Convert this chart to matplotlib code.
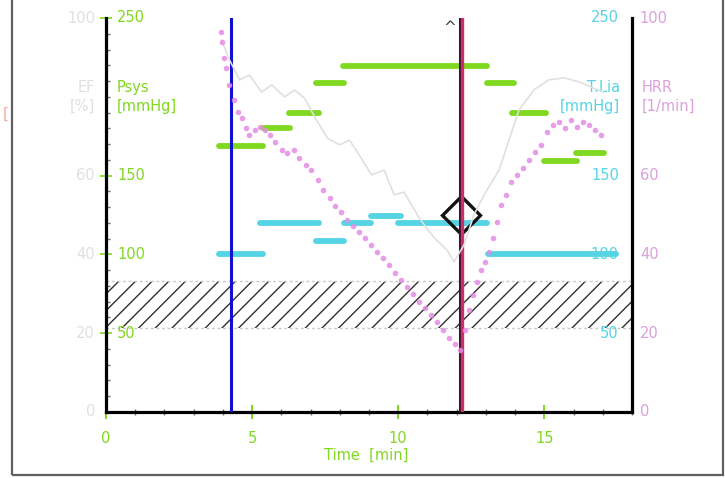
import matplotlib
matplotlib.use("Agg")
from matplotlib import pyplot as plt
from matplotlib.patches import Rectangle

# Psys segments [mmHg] (left scale 0-250)
psys_t0 = [3.86, 5.36, 6.25, 7.20, 8.10, 13.04, 13.90, 14.98, 16.08]
psys_t1 = [5.36, 6.28, 7.30, 8.16, 13.04, 13.96, 15.05, 16.11, 17.03]
psys_val = [169, 180, 190, 209, 219.5, 209, 190, 159, 164.5]

# T.Lia segments [mmHg] (right inner scale 0-250)
tlia_t0 = [3.86, 5.26, 7.20, 8.16, 9.08, 10.00, 13.07]
tlia_t1 = [5.36, 7.30, 8.16, 9.08, 10.10, 13.04, 17.44]
tlia_val = [100, 120, 108.5, 120, 124.5, 120, 100]

# EF [%] trace (light grey)
ef_t = [3.96, 4.23, 4.57, 4.91, 5.32, 5.67, 6.11, 6.45, 6.79, 7.20, 7.58, 7.99,
        8.33, 8.67, 9.08, 9.52, 9.86, 10.20, 10.72, 11.23, 11.67, 11.91, 12.25,
        12.59, 12.94, 13.45, 13.79, 14.13, 14.64, 15.15, 15.67, 16.18, 16.69, 17.03]
ef_val = [94.4, 89.3, 84.3, 85.5, 81.2, 83.0, 80.0, 81.7, 79.7, 74.1, 69.5, 67.8,
          69.0, 65.2, 60.2, 61.4, 55.1, 55.8, 49.2, 44.2, 41.1, 38.1, 42.4,
          50.0, 55.1, 61.4, 69.0, 76.6, 81.7, 84.3, 84.8, 83.8, 82.2, 81.2]

# HRR [1/min] dots
hrr_t = [3.92, 3.96, 4.03, 4.10, 4.20, 4.37, 4.51, 4.64, 4.78, 4.91, 5.09, 5.26,
         5.43, 5.60, 5.80, 6.01, 6.21, 6.42, 6.62, 6.83, 7.03, 7.24, 7.44, 7.65,
         7.85, 8.05, 8.26, 8.46, 8.67, 8.87, 9.08, 9.28, 9.49, 9.69, 9.90, 10.10,
         10.31, 10.51, 10.72, 10.92, 11.13, 11.33, 11.54, 11.74, 11.95, 12.12,
         12.29, 12.42, 12.56, 12.70, 12.83, 12.97, 13.11, 13.24, 13.38, 13.52,
         13.69, 13.86, 14.06, 14.27, 14.47, 14.68, 14.88, 15.09, 15.29, 15.49,
         15.70, 15.90, 16.11, 16.31, 16.52, 16.72, 16.93]
hrr_val = [96.4, 93.9, 89.8, 87.3, 83.0, 79.2, 76.1, 74.6, 72.1, 70.3, 71.6, 72.3,
           71.6, 70.3, 68.5, 66.5, 65.7, 66.5, 64.5, 62.7, 61.4, 58.9, 56.3, 54.3,
           52.3, 50.8, 48.7, 47.2, 45.7, 44.2, 42.4, 40.6, 39.1, 37.3, 35.3, 33.5,
           31.7, 29.9, 27.9, 26.4, 24.6, 22.8, 20.8, 18.8, 17.3, 15.7,
           20.8, 25.9, 29.7, 33.0, 36.0, 38.1, 40.6, 44.2, 48.2, 52.5,
           55.1, 58.4, 60.2, 61.9, 64.0, 66.0, 67.8, 71.1, 72.8, 73.6,
           72.1, 74.1, 72.3, 73.6, 72.8, 71.6, 70.3]

left_ticks = [250, 150, 100, 50]
right_ticks = [250, 150, 100, 50]
pct_ticks = [100, 60, 40, 20, 0]
x_ticks = [0, 5, 10, 15]

marker_blue = 4.27
marker_red = 12.15
caret_t, caret_y = 11.77, 244
diamond_t, diamond_y = 12.15, 125
band_lo, band_hi = 53.3, 83.1

green = '#80d820'
cyan = '#55d4e4'
pink = '#e48ce4'
grey = '#e0e0e0'

fig = plt.figure(figsize=(7.25, 4.78), dpi=100)
ax = fig.add_axes([106/725, 66/478, 526/725, 394/478])
ax.set_xlim(0, 18)
ax.set_ylim(0, 250)

# hatched band
ax.axhspan(band_lo, band_hi, fill=False, hatch='//', edgecolor='#303030', lw=0, zorder=1)
ax.axhline(band_hi, color='#c8c8c8', lw=1, ls=(0, (2, 2)), zorder=1)
ax.axhline(band_lo, color='#c8c8c8', lw=1, ls=(0, (2, 2)), zorder=1)

for t0, t1, v in zip(psys_t0, psys_t1, psys_val):
    ax.plot([t0, t1], [v, v], color=green, lw=4.2, solid_capstyle='round', zorder=4)
for t0, t1, v in zip(tlia_t0, tlia_t1, tlia_val):
    ax.plot([t0, t1], [v, v], color=cyan, lw=4.2, solid_capstyle='round', zorder=4)

ax.axvline(marker_blue, color='#1010d0', lw=2.2, zorder=6)
ax.axvline(marker_red - 0.03, color='#401030', lw=2.2, zorder=6)
ax.axvline(marker_red + 0.02, color='#c83068', lw=2.4, zorder=6)
ax.plot([diamond_t], [diamond_y], marker='D', ms=19, mfc='none', mec='#111111', mew=2.4, zorder=5)
ax.text(caret_t, caret_y, '^', color='#404040', fontsize=11, ha='center', va='center')

# spines / ticks
ax.spines['top'].set_visible(False)
for s in ['left', 'right', 'bottom']:
    ax.spines[s].set_linewidth(2.3)
    ax.spines[s].set_color('black')
ax.set_yticks(left_ticks)
ax.set_yticklabels([])
ax.set_yticks(range(0, 251, 10), minor=True)
ax.tick_params(axis='y', which='major', direction='inout', length=9, width=1.2, color=green,
               right=True)
ax.tick_params(axis='y', which='minor', direction='in', length=3, width=1, color='#707070',
               right=True)
ax.set_xticks(x_ticks)
ax.set_xticklabels([str(v) for v in x_ticks])
ax.set_xticks(range(0, 19), minor=True)
ax.tick_params(axis='x', which='major', direction='inout', length=10, width=1.4, color=green,
               labelcolor=green, labelsize=10.5, pad=9)
ax.tick_params(axis='x', which='minor', direction='inout', length=4, width=1, color='#707070')

ytr = ax.get_yaxis_transform()
for v in left_ticks:
    ax.text(0.021, v, str(v), transform=ytr, color=green, fontsize=10.5, ha='left', va='center')
for v in right_ticks:
    ax.text(0.975, v, str(v), transform=ytr, color=cyan, fontsize=10.5, ha='right', va='center')

# percent / HRR scale
ax2 = ax.twinx()
ax2.set_ylim(0, 100)
for s in ax2.spines.values():
    s.set_visible(False)
ax2.set_yticks([])
ax2.plot(ef_t, ef_val, color=grey, lw=1.2, zorder=2)
ax2.plot(hrr_t, hrr_val, ls='none', marker='o', ms=4, mfc=pink, mec='none', alpha=0.85, zorder=3)
ytr2 = ax2.get_yaxis_transform()
for v in pct_ticks:
    ax2.text(-0.021, v, str(v), transform=ytr2, color='#e0e0e0', fontsize=10.5, ha='right', va='center')
    ax2.text(1.015, v, str(v), transform=ytr2, color='#dca0dc', fontsize=10.5, ha='left', va='center')

ax.text(0.021, 0.80, 'Psys\n[mmHg]', transform=ax.transAxes, color=green, fontsize=10.5,
        ha='left', va='center', linespacing=1.3)
ax.text(-0.021, 0.80, 'EF\n[%]', transform=ax.transAxes, color='#e0e0e0', fontsize=10.5,
        ha='right', va='center', linespacing=1.3)
ax.text(0.977, 0.80, 'T.Lia\n[mmHg]', transform=ax.transAxes, color=cyan, fontsize=10.5,
        ha='right', va='center', linespacing=1.3)
ax.text(1.019, 0.80, 'HRR\n[1/min]', transform=ax.transAxes, color='#dca0dc', fontsize=10.5,
        ha='left', va='center', linespacing=1.3)
ax.text(0.494, -0.109, 'Time  [min]', transform=ax.transAxes, color=green, fontsize=10.5,
        ha='center', va='center')
fig.text(0.004, 0.76, '[', color='#f0b0a0', fontsize=11, ha='left', va='center')

fig.add_artist(Rectangle((12/725, 3/478), 711/725, 1.0, transform=fig.transFigure,
                         fill=False, ec='#606060', lw=1.6))

fig.savefig('out.png', dpi=100)
